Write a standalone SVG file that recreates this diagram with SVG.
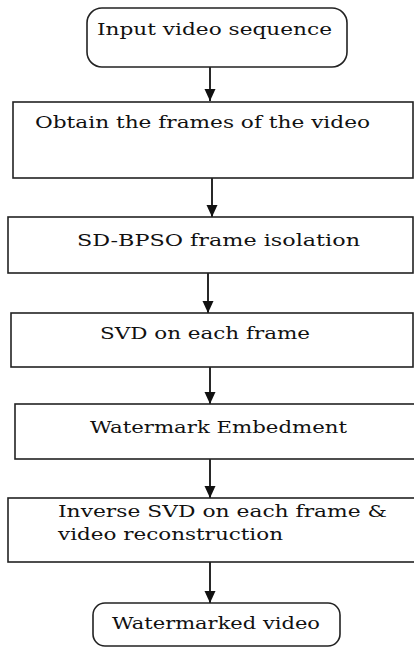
<svg xmlns="http://www.w3.org/2000/svg" width="414" height="647" viewBox="0 0 414 647">
<style>
.box{fill:#fff;stroke:#222;stroke-width:1.6}
.t{font-family:"DejaVu Serif","Liberation Serif",serif;font-size:17.5px;fill:#111}
.c{stroke:#111;stroke-width:1.8;fill:none}
</style>
<defs>
<marker id="ah" markerWidth="12" markerHeight="12" refX="12" refY="6" orient="auto" markerUnits="userSpaceOnUse" viewBox="0 0 12 12">
<path d="M0,0.5 L12,6 L0,11.5 Z" fill="#111"/>
</marker>
</defs>
<rect width="414" height="647" fill="#fff"/>
<g id="connectors">
<line class="c" x1="210" y1="67" x2="210" y2="101" marker-end="url(#ah)"/>
<line class="c" x1="212" y1="178" x2="212" y2="217" marker-end="url(#ah)"/>
<line class="c" x1="208" y1="273" x2="208" y2="313" marker-end="url(#ah)"/>
<line class="c" x1="210" y1="367" x2="210" y2="404" marker-end="url(#ah)"/>
<line class="c" x1="210" y1="459" x2="210" y2="498" marker-end="url(#ah)"/>
<line class="c" x1="210" y1="562" x2="210" y2="603" marker-end="url(#ah)"/>
</g>
<g id="n1">
<rect class="box" x="87" y="8" width="260" height="59" rx="15"/>
<text class="t" x="97" y="35" textLength="235" lengthAdjust="spacingAndGlyphs">Input video sequence</text>
</g>
<g id="n2">
<rect class="box" x="13" y="102" width="400" height="76"/>
<text class="t" x="35" y="128" textLength="335" lengthAdjust="spacingAndGlyphs">Obtain the frames of the video</text>
</g>
<g id="n3">
<rect class="box" x="8" y="217" width="405" height="56"/>
<text class="t" x="77" y="246" textLength="283" lengthAdjust="spacingAndGlyphs">SD-BPSO frame isolation</text>
</g>
<g id="n4">
<rect class="box" x="11" y="313" width="402" height="54"/>
<text class="t" x="100" y="339" textLength="210" lengthAdjust="spacingAndGlyphs">SVD on each frame</text>
</g>
<g id="n5">
<rect class="box" x="15" y="404" width="402" height="55"/>
<text class="t" x="90" y="433" textLength="257" lengthAdjust="spacingAndGlyphs">Watermark Embedment</text>
</g>
<g id="n6">
<rect class="box" x="8" y="498" width="410" height="64"/>
<text class="t" x="58" y="517" textLength="329" lengthAdjust="spacingAndGlyphs">Inverse SVD on each frame &amp;</text>
<text class="t" x="58" y="540" textLength="225" lengthAdjust="spacingAndGlyphs">video reconstruction</text>
</g>
<g id="n7">
<rect class="box" x="93" y="603" width="247" height="43" rx="12"/>
<text class="t" x="112" y="629" textLength="208" lengthAdjust="spacingAndGlyphs">Watermarked video</text>
</g>
</svg>
